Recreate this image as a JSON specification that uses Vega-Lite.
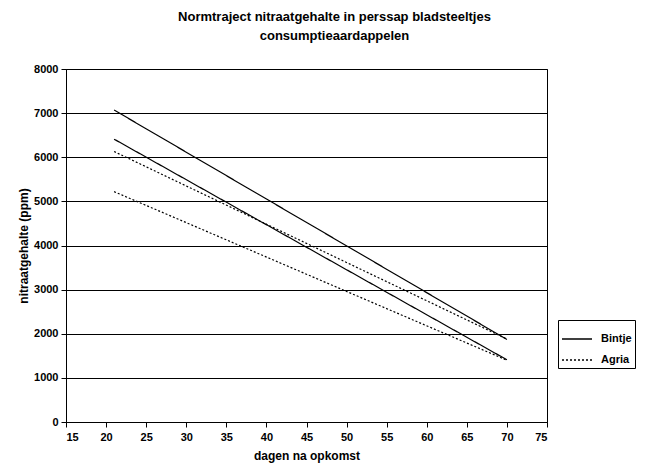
{
  "$schema": "https://vega.github.io/schema/vega-lite/v6.json",
  "width": 481,
  "height": 353,
  "autosize": {"type": "none"},
  "padding": {"left": 66, "top": 69, "right": 112, "bottom": 46},
  "background": "white",
  "title": {
    "text": ["Normtraject nitraatgehalte in perssap bladsteeltjes", "consumptieaardappelen"],
    "font": "Liberation Sans",
    "fontSize": 13,
    "fontWeight": "bold",
    "color": "#000",
    "anchor": "middle",
    "dx": 28,
    "offset": 20,
    "lineHeight": 19
  },
  "config": {
    "view": {"stroke": "#000", "strokeWidth": 1},
    "axis": {
      "labelFont": "Liberation Sans",
      "labelFontSize": 11,
      "labelFontWeight": "bold",
      "labelColor": "#000",
      "titleFont": "Liberation Sans",
      "titleFontSize": 12,
      "titleFontWeight": "bold",
      "titleColor": "#000",
      "domainColor": "#000",
      "tickColor": "#000",
      "tickSize": 5
    }
  },
  "data": {
    "values": [
      {"dag": 21, "ppm": 7070, "lijn": "Bintje hoog", "ras": "Bintje"},
      {"dag": 70, "ppm": 1870, "lijn": "Bintje hoog", "ras": "Bintje"},
      {"dag": 21, "ppm": 6410, "lijn": "Bintje laag", "ras": "Bintje"},
      {"dag": 70, "ppm": 1410, "lijn": "Bintje laag", "ras": "Bintje"},
      {"dag": 21, "ppm": 6130, "lijn": "Agria hoog", "ras": "Agria"},
      {"dag": 70, "ppm": 1880, "lijn": "Agria hoog", "ras": "Agria"},
      {"dag": 21, "ppm": 5220, "lijn": "Agria laag", "ras": "Agria"},
      {"dag": 70, "ppm": 1400, "lijn": "Agria laag", "ras": "Agria"}
    ]
  },
  "mark": {"type": "line", "color": "#000", "strokeWidth": 1.2},
  "encoding": {
    "x": {
      "field": "dag", "type": "quantitative",
      "scale": {"domain": [15, 75], "nice": false, "zero": false},
      "axis": {"values": [15,20,25,30,35,40,45,50,55,60,65,70,75], "grid": false, "title": "dagen na opkomst", "titlePadding": 8, "labelPadding": 4}
    },
    "y": {
      "field": "ppm", "type": "quantitative",
      "scale": {"domain": [0, 8000], "nice": false},
      "axis": {"values": [0,1000,2000,3000,4000,5000,6000,7000,8000], "format": "d", "grid": true, "gridColor": "#000", "gridWidth": 1, "gridOpacity": 1, "title": "nitraatgehalte (ppm)", "titlePadding": 3, "labelPadding": 3}
    },
    "detail": {"field": "lijn"},
    "strokeDash": {
      "field": "ras", "type": "nominal",
      "scale": {"domain": ["Bintje", "Agria"], "range": [[1, 0], [2, 2]]},
      "legend": {
        "title": null,
        "orient": "none",
        "legendX": 492,
        "legendY": 251,
        "symbolType": "stroke",
        "symbolStrokeColor": "#000",
        "symbolStrokeWidth": 1.5,
        "symbolSize": 900,
        "labelFont": "Liberation Sans",
        "labelFontSize": 11,
        "labelFontWeight": "bold",
        "labelColor": "#000",
        "labelOffset": 8,
        "strokeColor": "#000",
        "padding": 3,
        "rowPadding": -8,
        "fillColor": "white"
      }
    }
  }
}
